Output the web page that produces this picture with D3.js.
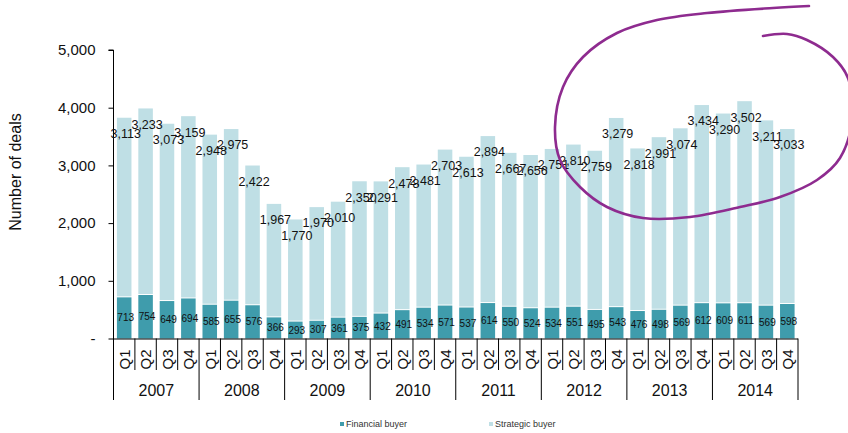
<!DOCTYPE html>
<html><head><meta charset="utf-8">
<script src="https://cdn.jsdelivr.net/npm/d3@7/dist/d3.min.js"></script>
<style>
html,body{margin:0;padding:0;background:#fff;}
svg{display:block;font-family:"Liberation Sans",Arial,sans-serif;}
</style></head>
<body><svg id="chart" width="848" height="433"></svg>
<script>
const years = ["2007","2008","2009","2010","2011","2012","2013","2014"];
const quarters = ["Q1","Q2","Q3","Q4"];
const financial = [713,754,649,694, 585,655,576,366, 293,307,361,375, 432,491,534,571,
                   537,614,550,524, 534,551,495,543, 476,498,569,612, 609,611,569,598];
const strategic = [3113,3233,3073,3159, 2948,2975,2422,1967, 1770,1970,2010,2350,
                   2291,2478,2481,2703, 2613,2894,2667,2656, 2751,2810,2759,3279,
                   2818,2991,3074,3434, 3290,3502,3211,3033];
const yTicks = [0,1000,2000,3000,4000,5000];
const seriesNames = ["Financial buyer","Strategic buyer"];
const colors = ["#3f9cac","#bfdfe5"];

const cats = [];
years.forEach(y => quarters.forEach(q => cats.push(y + "-" + q)));
const data = cats.map((c,i) => ({key:c, year:c.split("-")[0], q:c.split("-")[1], fin:financial[i], str:strategic[i]}));

const svg = d3.select("#chart");
const x0 = 113.5, x1 = 798, yb = 338.5, yt = 50;
const x = d3.scaleBand().domain(cats).range([x0, x1]).paddingInner(0.32).paddingOuter(0.16);
const y = d3.scaleLinear().domain([0,5000]).range([yb, yt]);
const step = x.step();

// bars
const g = svg.append("g");
g.selectAll("rect.fin").data(data).join("rect")
  .attr("x", d => x(d.key)).attr("width", x.bandwidth())
  .attr("y", d => y(d.fin)).attr("height", d => y(0) - y(d.fin))
  .attr("fill", colors[0]);
g.selectAll("rect.str").data(data).join("rect")
  .attr("x", d => x(d.key)).attr("width", x.bandwidth())
  .attr("y", d => y(d.fin + d.str)).attr("height", d => y(d.fin) - y(d.fin + d.str) - 1)
  .attr("fill", colors[1]);

// y axis
const yAxis = d3.axisLeft(y).tickValues(yTicks).tickSize(5).tickPadding(13)
  .tickFormat(v => v === 0 ? "-" : d3.format(",")(v));
const ya = svg.append("g").attr("transform", `translate(${x0},0)`).call(yAxis);
ya.select(".domain").attr("d", `M-5,${yt}H0V${yb+0.5}`).attr("stroke","#000");
ya.selectAll(".tick line").attr("stroke","#000");
ya.selectAll(".tick text").attr("font-size", 15).attr("fill","#111")
  .attr("font-family", "Liberation Sans, Arial, sans-serif");

svg.append("text").attr("transform", "translate(21,172) rotate(-90)")
  .attr("text-anchor","middle").attr("font-size",16).attr("fill","#111")
  .text("Number of deals");

// x axis: baseline, dividers, labels
svg.append("line").attr("x1", x0).attr("x2", x1).attr("y1", yb+0.5).attr("y2", yb+0.5)
  .attr("stroke","#000");
const bounds = d3.range(cats.length + 1);
svg.selectAll("line.div").data(bounds).join("line")
  .attr("x1", i => x0 + i*step).attr("x2", i => x0 + i*step)
  .attr("y1", yb).attr("y2", i => i % 4 === 0 ? 400 : 370)
  .attr("stroke","#000").attr("stroke-width",1);
svg.selectAll("text.q").data(data).join("text")
  .attr("transform", d => `translate(${x(d.key) + x.bandwidth()/2 + 0.5},359.5) rotate(-90)`)
  .attr("text-anchor","middle").attr("dy","0.35em").attr("font-size",15).attr("fill","#111")
  .text(d => d.q);
svg.selectAll("text.yr").data(years).join("text")
  .attr("x", (yr,i) => x0 + (i*4 + 2)*step).attr("y", 390).attr("dy","0.35em")
  .attr("text-anchor","middle").attr("font-size",16).attr("fill","#111")
  .text(d => d);

// value labels
const fmt = d3.format(",");
svg.selectAll("text.fl").data(data).join("text")
  .attr("x", d => x(d.key) + x.bandwidth()/2 + 1.5)
  .attr("y", d => (y(0) + y(d.fin))/2).attr("dy","0.35em")
  .attr("text-anchor","middle").attr("font-size",10).attr("fill","#111")
  .text(d => fmt(d.fin));
svg.selectAll("text.sl").data(data).join("text")
  .attr("x", d => x(d.key) + x.bandwidth()/2 + 1.5)
  .attr("y", d => y(d.fin + d.str) + 16).attr("dy","0.35em")
  .attr("text-anchor","middle").attr("font-size",12.5).attr("fill","#111")
  .text(d => fmt(d.str));

// legend
const lg = svg.append("g");
const legendX = [340, 489];
seriesNames.forEach((n,i) => {
  lg.append("rect").attr("x", legendX[i]).attr("y", 422).attr("width",4).attr("height",4).attr("fill", colors[i]);
  lg.append("text").attr("x", legendX[i] + 6).attr("y", 424).attr("dy","0.35em")
    .attr("font-size",9).attr("fill","#333").text(n);
});

// hand-drawn annotation
const annot = [[809,6],[773,8],[707,13],[657,20],[617,33],[583,57],[563,87],[555,127],[560,160],
  [580,187],[607,207],[643,218],[690,217],[740,207],[780,197],[817,180],[840,158],[852,120],
  [848,78],[833,57],[807,40],[787,34],[763,36]];
svg.append("path").attr("d", d3.line().curve(d3.curveCatmullRom)(annot))
  .attr("fill","none").attr("stroke","#8e2b8f").attr("stroke-width",2.6).attr("stroke-linecap","round");
</script></body></html>
